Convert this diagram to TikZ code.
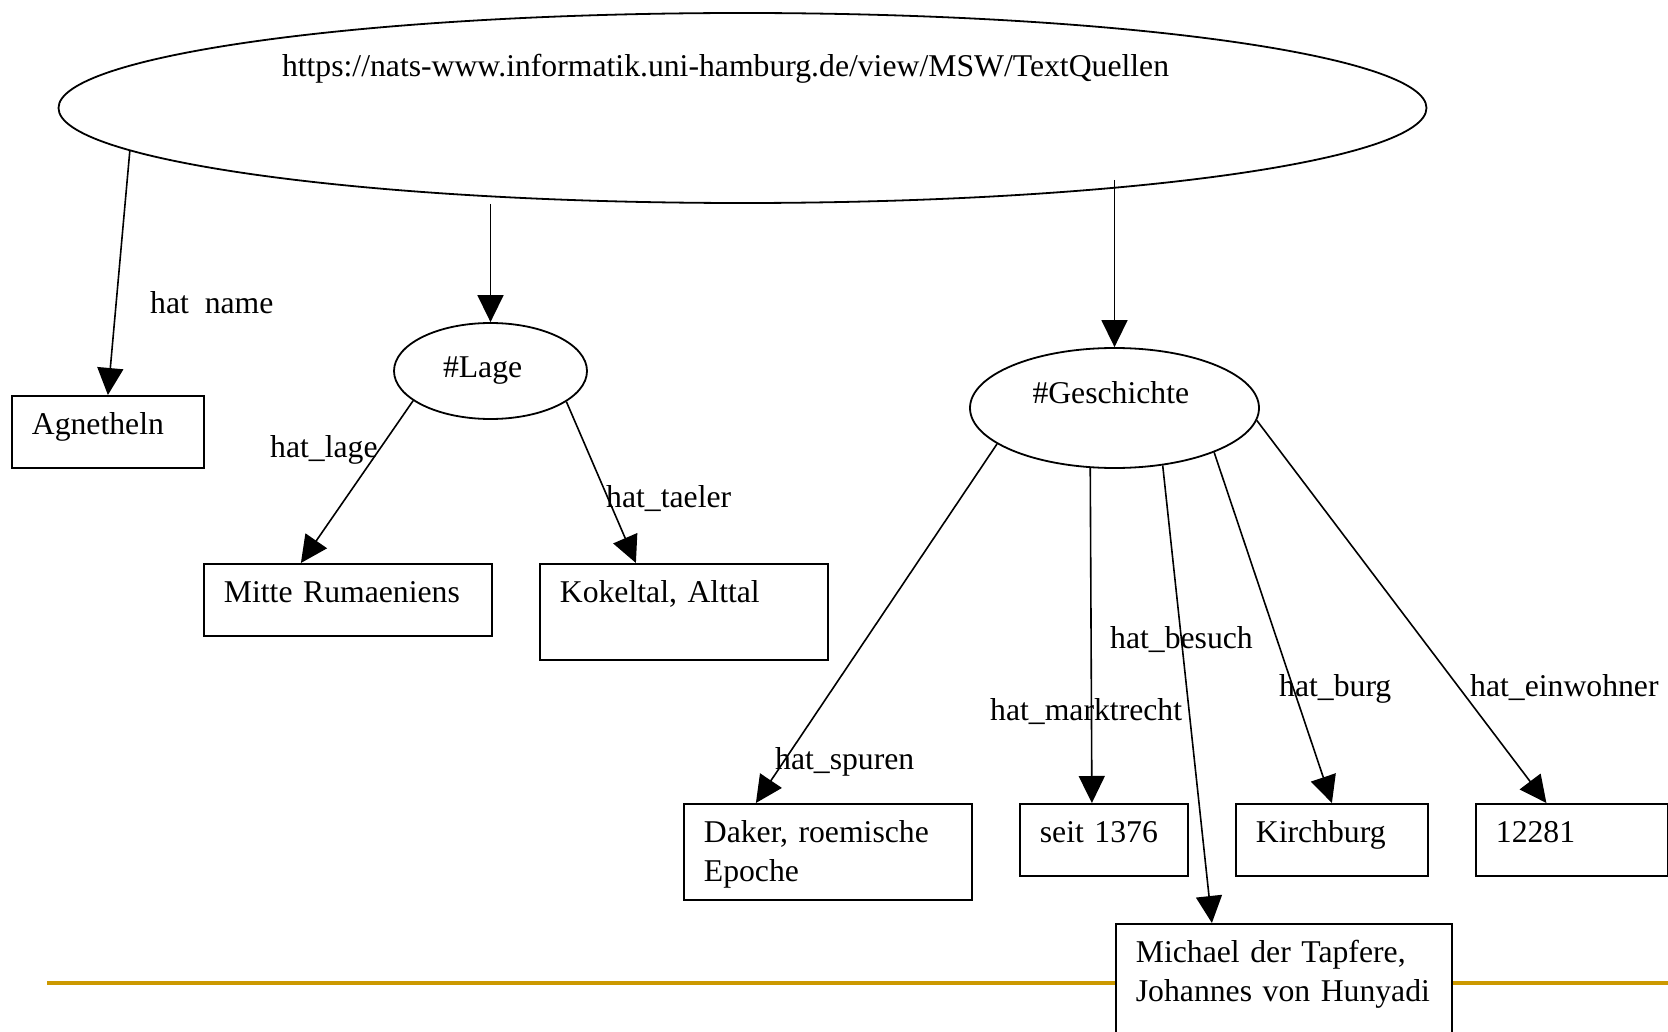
\documentclass[tikz,border=0pt]{standalone}
\usepackage{fontspec}
\setmainfont{Liberation Serif}
\usetikzlibrary{shapes.geometric, arrows.meta}
\definecolor{rulegold}{RGB}{204,153,0}

\begin{document}
\begin{tikzpicture}[x=1pt, y=-1pt, font=\fontsize{31.7}{38.7}\selectfont,
		res/.style={ellipse, draw, line width=1.8pt, inner sep=0pt, text height=22pt, align=left},
		val/.style={rectangle, draw, fill=white, line width=1.8pt, anchor=north west, inner xsep=20pt, inner ysep=0pt, text height=39pt, align=left},
		prop/.style={anchor=base west, inner sep=0pt},
		rel/.style={draw, line width=1.6pt, -{Triangle[length=27pt, width=26pt]}}]
			\useasboundingbox (0,0) rectangle (1668,1032);
			\clip (0,0) rectangle (1668,1032);
			\draw [rulegold, line width=4pt] (47,983) -- (1668,983);
			% resources
			\node [res, minimum width=1368pt, minimum height=190pt, text width=921pt, text depth=84pt] (src) at (742.5,108) {https://nats-www.informatik.uni-hamburg.de/view/MSW/TextQuellen};
			\node [res, minimum width=193pt, minimum height=96pt, text width=95pt, text depth=10pt] (lage) at (490.5,371) {\#Lage};
			\node [res, minimum width=289pt, minimum height=120pt, text width=164pt, text depth=31.4pt] (gesch) at (1114.5,408) {\#Geschichte};
			% values
			\node [val, text width=152pt, text depth=33pt] (agn) at (11,395) {Agnetheln};
			\node [val, text width=248pt, text depth=33pt] (mitte) at (203,563) {Mitte Rumaeniens};
			\node [val, text width=248pt, text depth=57pt] (kokel) at (539,563) {Kokeltal, Alttal};
			\node [val, text width=248pt, text depth=57pt] (daker) at (683,803) {Daker, roemische\\Epoche};
			\node [val, text width=128pt, text depth=33pt] (seit) at (1019,803) {seit 1376};
			\node [val, text width=152pt, text depth=33pt] (kirch) at (1235,803) {Kirchburg};
			\node [val, text width=152pt, text depth=33pt] (einw) at (1475,803) {12281};
			\node [val, text width=296pt, text depth=81pt] (mich) at (1115,923) {Michael der Tapfere,\\Johannes von Hunyadi};
			% relations
			\draw [rel] (src.184) -- (agn.north);
			\draw [rel] (src.south -| lage.north) -- (lage.north);
			\draw [rel] ([yshift=24pt]src.south -| gesch.north) -- (gesch.north);
			\draw [rel] (lage.201) -- ([xshift=-47pt]mitte.north);
			\draw [rel] (lage.338) -- ([xshift=-48pt]kokel.north);
			\draw [rel] (gesch.197) -- ([xshift=-72pt]daker.north);
			\draw [rel] (gesch.248) -- ([xshift=-12pt]seit.north);
			\draw [rel] (gesch.310) -- ([xshift=-72pt]mich.north);
			\draw [rel] (gesch.336.5) -- (kirch.north);
			\draw [rel] (gesch.355) -- ([xshift=-25.5pt]einw.north);
			% labels
			\node [prop] (lname) at (150,313) {hat\ \ name};
			\node [prop] (llage) at (270,457) {hat\_lage};
			\node [prop] (ltaeler) at (606,507) {hat\_taeler};
			\node [prop] (lspuren) at (775,769) {hat\_spuren};
			\node [prop] (lmarkt) at (990,720) {hat\_marktrecht};
			\node [prop] (lbesuch) at (1110,648) {hat\_besuch};
			\node [prop] (lburg) at (1279,696) {hat\_burg};
			\node [prop] (leinw) at (1470,696) {hat\_einwohner};
		\end{tikzpicture}
\end{document}
